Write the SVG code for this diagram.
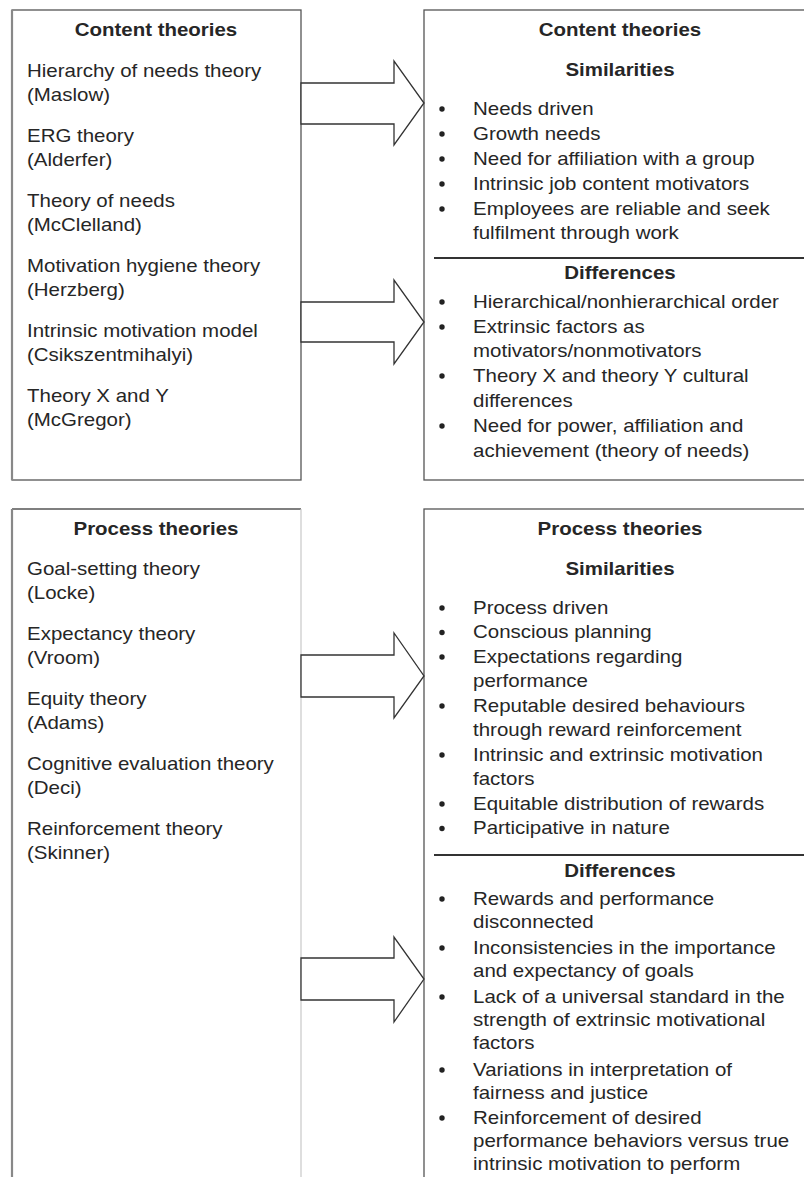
<svg xmlns="http://www.w3.org/2000/svg" width="804" height="1177" viewBox="0 0 804 1177">
<style>
.t{font-family:"Liberation Sans",Arial,sans-serif;font-size:17.5px;fill:#262626}
.b{font-weight:bold}
.c{text-anchor:middle}
.box{fill:#fff;stroke:#555;stroke-width:1.3}
.edge{stroke:#888;stroke-width:2.2}
.light{stroke:#c8c8c8;stroke-width:1.2}
.arrow{fill:#fff;stroke:#333;stroke-width:1.3;stroke-linejoin:miter}
.sep{stroke:#333;stroke-width:2}
.dot{fill:#222}
</style>
<rect width="804" height="1177" fill="#fff"/>
<g id="content-list">
<rect class="box" x="12" y="10" width="289" height="470"/>
<line class="edge" x1="12" y1="10" x2="12" y2="480"/>
<g transform="scale(1.17 1)" class="t">
<text class="b c" x="133.3" y="36">Content theories</text>
<text x="23.1" y="77">Hierarchy of needs theory</text>
<text x="23.1" y="101">(Maslow)</text>
<text x="23.1" y="142">ERG theory</text>
<text x="23.1" y="166">(Alderfer)</text>
<text x="23.1" y="207">Theory of needs</text>
<text x="23.1" y="231">(McClelland)</text>
<text x="23.1" y="272">Motivation hygiene theory</text>
<text x="23.1" y="296">(Herzberg)</text>
<text x="23.1" y="337">Intrinsic motivation model</text>
<text x="23.1" y="361">(Csikszentmihalyi)</text>
<text x="23.1" y="402">Theory X and Y</text>
<text x="23.1" y="426">(McGregor)</text>
</g>
</g>
<g id="content-compare">
<rect class="box" x="424" y="10" width="400" height="470"/>
<line class="sep" x1="434" y1="258" x2="804" y2="258"/>
<g class="dot">
<circle cx="442" cy="109" r="2.7"/>
<circle cx="442" cy="134" r="2.7"/>
<circle cx="442" cy="159" r="2.7"/>
<circle cx="442" cy="184" r="2.7"/>
<circle cx="442" cy="209" r="2.7"/>
<circle cx="442" cy="302" r="2.7"/>
<circle cx="442" cy="327" r="2.7"/>
<circle cx="442" cy="376" r="2.7"/>
<circle cx="442" cy="426" r="2.7"/>
</g>
<g transform="scale(1.17 1)" class="t">
<text class="b c" x="529.9" y="36">Content theories</text>
<text class="b c" x="529.9" y="76">Similarities</text>
<text x="404.3" y="115">Needs driven</text>
<text x="404.3" y="140">Growth needs</text>
<text x="404.3" y="165">Need for affiliation with a group</text>
<text x="404.3" y="190">Intrinsic job content motivators</text>
<text x="404.3" y="215">Employees are reliable and seek</text>
<text x="404.3" y="239">fulfilment through work</text>
<text class="b c" x="529.9" y="279">Differences</text>
<text x="404.3" y="308">Hierarchical/nonhierarchical order</text>
<text x="404.3" y="333">Extrinsic factors as</text>
<text x="404.3" y="357">motivators/nonmotivators</text>
<text x="404.3" y="382">Theory X and theory Y cultural</text>
<text x="404.3" y="407">differences</text>
<text x="404.3" y="432">Need for power, affiliation and</text>
<text x="404.3" y="457">achievement (theory of needs)</text>
</g>
</g>
<g id="process-list">
<rect x="12" y="509" width="289" height="700" fill="#fff"/>
<line class="box" x1="12" y1="509" x2="301" y2="509"/>
<line class="edge" x1="12" y1="509" x2="12" y2="1177"/>
<line class="light" x1="301" y1="509" x2="301" y2="1177"/>
<g transform="scale(1.17 1)" class="t">
<text class="b c" x="133.3" y="535">Process theories</text>
<text x="23.1" y="575">Goal-setting theory</text>
<text x="23.1" y="599">(Locke)</text>
<text x="23.1" y="640">Expectancy theory</text>
<text x="23.1" y="664">(Vroom)</text>
<text x="23.1" y="705">Equity theory</text>
<text x="23.1" y="729">(Adams)</text>
<text x="23.1" y="770">Cognitive evaluation theory</text>
<text x="23.1" y="794">(Deci)</text>
<text x="23.1" y="835">Reinforcement theory</text>
<text x="23.1" y="859">(Skinner)</text>
</g>
</g>
<g id="process-compare">
<rect class="box" x="424" y="509" width="400" height="700"/>
<line class="sep" x1="434" y1="855" x2="804" y2="855"/>
<g class="dot">
<circle cx="442" cy="608" r="2.7"/>
<circle cx="442" cy="632.5" r="2.7"/>
<circle cx="442" cy="657" r="2.7"/>
<circle cx="442" cy="706" r="2.7"/>
<circle cx="442" cy="755" r="2.7"/>
<circle cx="442" cy="804" r="2.7"/>
<circle cx="442" cy="828.5" r="2.7"/>
<circle cx="442" cy="899" r="2.7"/>
<circle cx="442" cy="948" r="2.7"/>
<circle cx="442" cy="997" r="2.7"/>
<circle cx="442" cy="1070" r="2.7"/>
<circle cx="442" cy="1118" r="2.7"/>
</g>
<g transform="scale(1.17 1)" class="t">
<text class="b c" x="529.9" y="535">Process theories</text>
<text class="b c" x="529.9" y="575">Similarities</text>
<text x="404.3" y="614">Process driven</text>
<text x="404.3" y="638.5">Conscious planning</text>
<text x="404.3" y="663">Expectations regarding</text>
<text x="404.3" y="687.5">performance</text>
<text x="404.3" y="712">Reputable desired behaviours</text>
<text x="404.3" y="736.5">through reward reinforcement</text>
<text x="404.3" y="761">Intrinsic and extrinsic motivation</text>
<text x="404.3" y="785.5">factors</text>
<text x="404.3" y="810">Equitable distribution of rewards</text>
<text x="404.3" y="834.5">Participative in nature</text>
<text class="b c" x="529.9" y="877">Differences</text>
<text x="404.3" y="905">Rewards and performance</text>
<text x="404.3" y="928">disconnected</text>
<text x="404.3" y="954">Inconsistencies in the importance</text>
<text x="404.3" y="977">and expectancy of goals</text>
<text x="404.3" y="1003">Lack of a universal standard in the</text>
<text x="404.3" y="1026">strength of extrinsic motivational</text>
<text x="404.3" y="1049">factors</text>
<text x="404.3" y="1076">Variations in interpretation of</text>
<text x="404.3" y="1099">fairness and justice</text>
<text x="404.3" y="1124">Reinforcement of desired</text>
<text x="404.3" y="1147">performance behaviors versus true</text>
<text x="404.3" y="1170">intrinsic motivation to perform</text>
</g>
</g>
<g id="connectors">
<polygon class="arrow" points="301,83 394,83 394,61 424,103 394,145 394,124 301,124"/>
<polygon class="arrow" points="301,302 394,302 394,280 424,322 394,364 394,342 301,342"/>
<polygon class="arrow" points="301,655 394,655 394,633 424,676 394,718 394,697 301,697"/>
<polygon class="arrow" points="301,958 394,958 394,937 424,979 394,1022 394,1000 301,1000"/>
</g>
</svg>
